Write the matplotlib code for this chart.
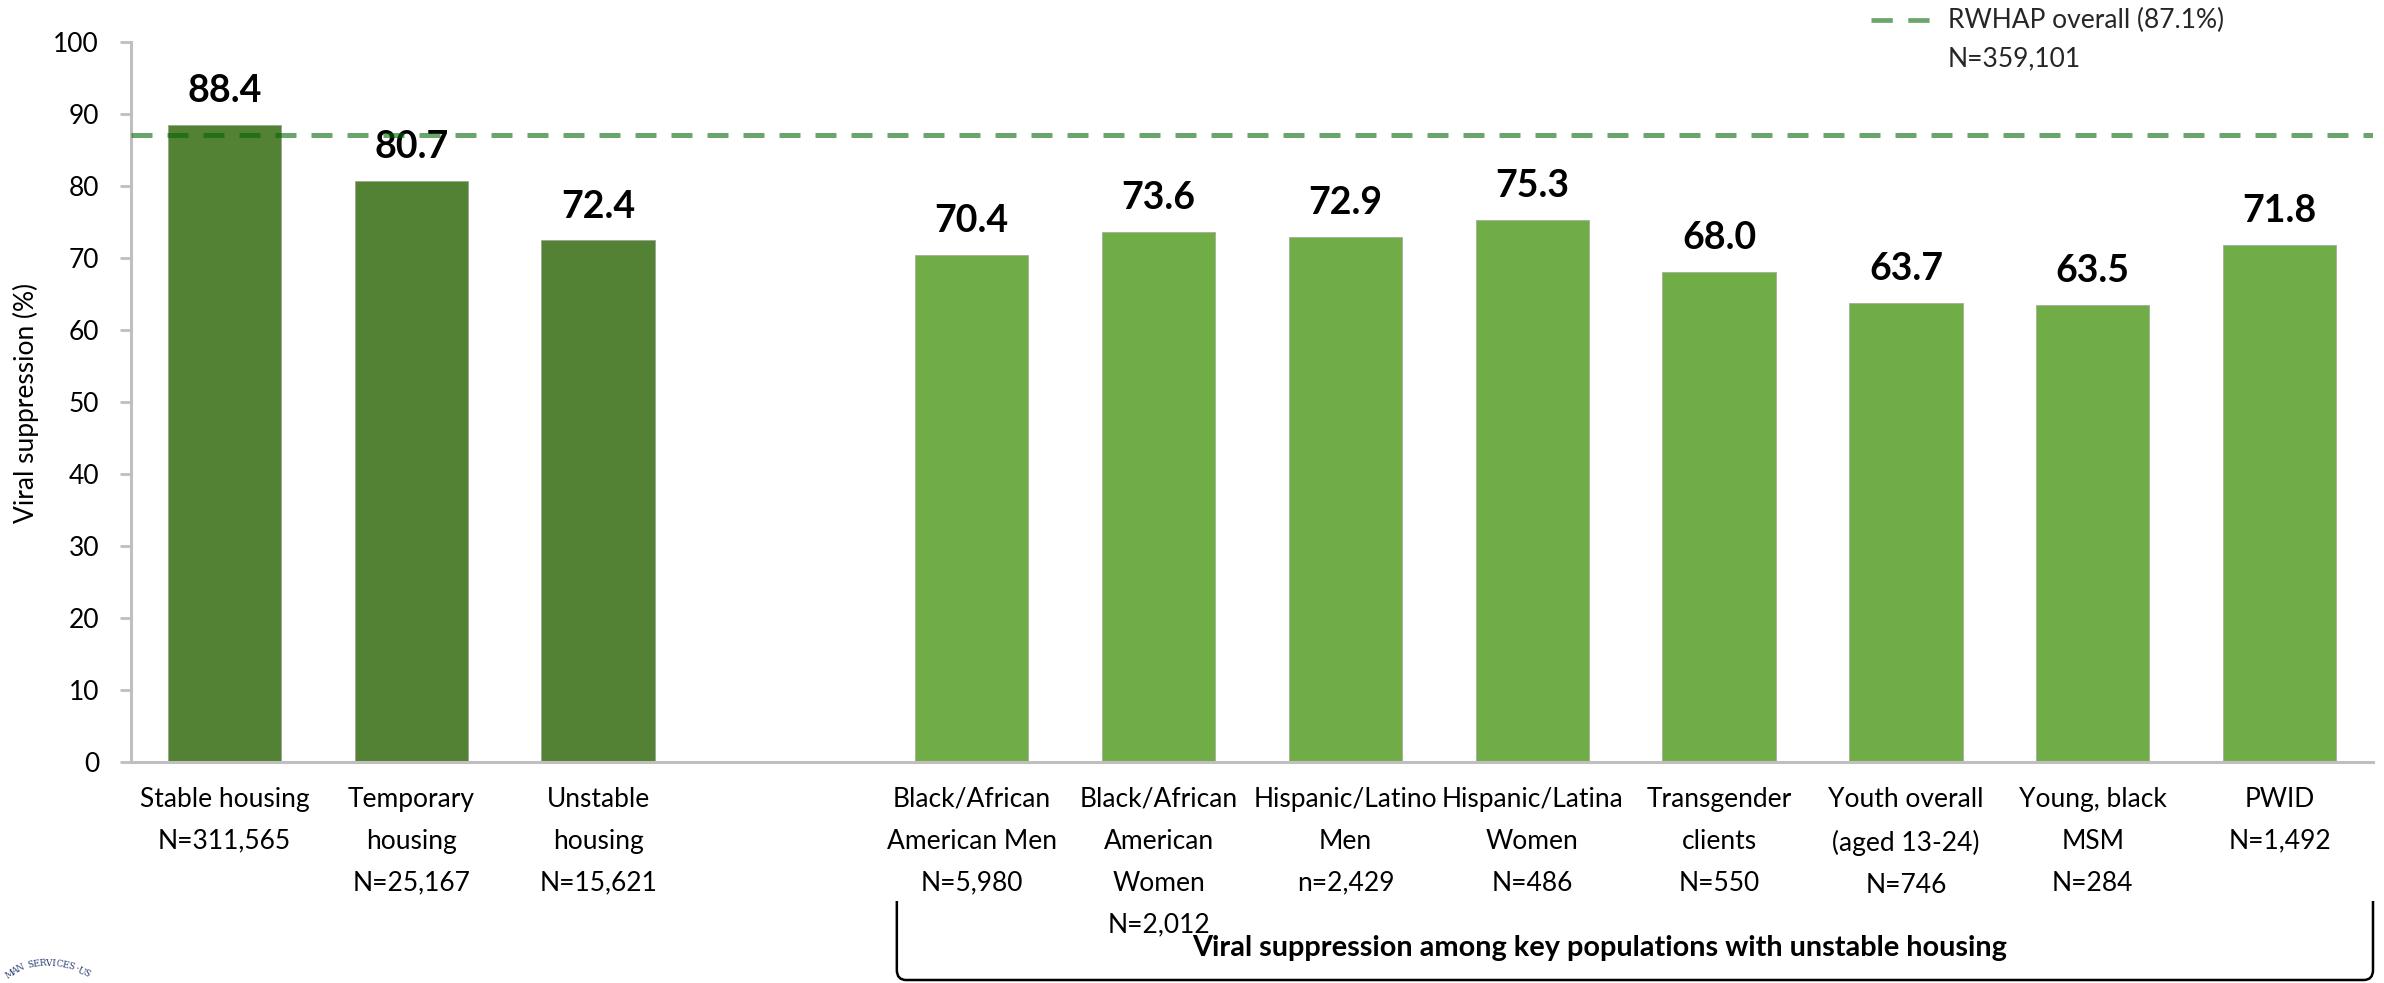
import matplotlib
matplotlib.use("Agg")
import matplotlib.pyplot as plt
import matplotlib.transforms as mtransforms
from matplotlib.path import Path
from matplotlib.patches import PathPatch
from matplotlib.lines import Line2D
import numpy as np

# ---------------- data ----------------
housing_labels = ["Stable housing\nN=311,565", "Temporary\nhousing\nN=25,167", "Unstable\nhousing\nN=15,621"]
housing_values = [88.4, 80.7, 72.4]

key_labels = ["Black/African\nAmerican Men\nN=5,980",
              "Black/African\nAmerican\nWomen\nN=2,012",
              "Hispanic/Latino\nMen\nn=2,429",
              "Hispanic/Latina\nWomen\nN=486",
              "Transgender\nclients\nN=550",
              "Youth overall\n(aged 13-24)\nN=746",
              "Young, black\nMSM\nN=284",
              "PWID\nN=1,492"]
key_values = [70.4, 73.6, 72.9, 75.3, 68.0, 63.7, 63.5, 71.8]

overall_value = 87.1
overall_label = "RWHAP overall (87.1%)\nN=359,101"
bracket_label = "Viral suppression among key populations with unstable housing"
y_ticks = list(range(0, 101, 10))
y_label = "Viral suppression (%)"

# ---------------- style ----------------
FONT = ["Lato", "DejaVu Sans"]
plt.rcParams["font.family"] = FONT
DARK = "#548235"
LIGHT = "#70AD47"
GRID = "#BFBFBF"
LINE_COLOR = "#006400"
LINE_ALPHA = 0.58
FS = 19

W, H = 2384, 983
fig = plt.figure(figsize=(W / 100, H / 100), dpi=100)
ax = fig.add_axes([131 / W, 1 - 761.7 / H, 2242 / W, 720 / H])

housing_x = np.arange(len(housing_values))
key_x = np.arange(len(key_values)) + len(housing_values) + 1
bw = 0.607

ax.bar(housing_x, housing_values, width=bw, color=DARK, edgecolor="#9AA58F", linewidth=0.6, zorder=2)
ax.bar(key_x, key_values, width=bw, color=LIGHT, edgecolor="#A3AE9A", linewidth=0.6, zorder=2)

for x, v in list(zip(housing_x, housing_values)) + list(zip(key_x, key_values)):
    ax.annotate(f"{v:.1f}", (x, v), xytext=(0, 16.5), textcoords="offset points",
                ha="center", va="baseline", fontsize=27, fontweight="bold", color="black")

ax.axhline(overall_value, color=LINE_COLOR, alpha=LINE_ALPHA, lw=3.6, dashes=(4.2, 3.0), zorder=3)

ax.set_xlim(-0.5, len(housing_values) + len(key_values) + 0.5)
ax.set_ylim(0, 100)
ax.set_yticks(y_ticks)
ax.set_yticklabels([str(t) for t in y_ticks])
ax.set_xticks(list(housing_x) + list(key_x))
ax.set_xticklabels(housing_labels + key_labels, linespacing=1.85)

for s in ["top", "right"]:
    ax.spines[s].set_visible(False)
for s in ["left", "bottom"]:
    ax.spines[s].set_color(GRID)
    ax.spines[s].set_linewidth(2.2)
ax.tick_params(axis="y", direction="out", length=8, width=2, color=GRID, pad=15,
               labelsize=FS, labelcolor="black")
ax.tick_params(axis="x", length=0, pad=18, labelsize=FS, labelcolor="black")
for lbl in ax.get_xticklabels():
    lbl.set_verticalalignment("top")

fig.text(26 / W, 1 - 403 / H, y_label, rotation=90, ha="center", va="center",
         fontsize=FS, color="black")

# legend-like note at the top right
leg_line = Line2D([1871 / W, 1930 / W], [1 - 20 / H, 1 - 20 / H], transform=fig.transFigure,
                  color=LINE_COLOR, alpha=LINE_ALPHA, lw=3.4, dashes=(4.5, 3.3))
fig.add_artist(leg_line)
l1, l2 = overall_label.split("\n")
fig.text(1948 / W, 1 - 20 / H, l1, ha="left", va="center", fontsize=FS, color="#262626")
fig.text(1948 / W, 1 - 59 / H, l2, ha="left", va="center", fontsize=FS, color="#262626")

# bracket beneath key populations
trans = mtransforms.blended_transform_factory(ax.transData, fig.transFigure)
x0, x1 = key_x[0] - 0.401, key_x[-1] + 0.5
ytop, ybot = 1 - 901 / H, 1 - 980 / H
rx, ry = 0.05, 10 / H
verts = [(x0, ytop), (x0, ybot + ry), (x0, ybot), (x0 + rx, ybot),
         (x1 - rx, ybot), (x1, ybot), (x1, ybot + ry), (x1, ytop)]
codes = [Path.MOVETO, Path.LINETO, Path.CURVE3, Path.CURVE3,
         Path.LINETO, Path.CURVE3, Path.CURVE3, Path.LINETO]
fig.add_artist(PathPatch(Path(verts, codes), transform=trans, fill=False,
                         edgecolor="black", lw=1.8, clip_on=False))
fig.text(1600 / W, 1 - 948 / H, bracket_label, ha="center", va="center",
         fontsize=20.8, fontweight="bold", color="black")

# fragment of a seal at the lower-left corner
seal = "MAN SERVICES·US"
cx, cy, r = 48, -52, 72
angles = np.linspace(122, 58, len(seal))
for ch, a in zip(seal, angles):
    px = cx + r * np.cos(np.radians(a))
    py = cy + r * np.sin(np.radians(a))
    fig.text(px / W, py / H, ch, rotation=a - 90, ha="center", va="center",
             fontsize=6.5, color="#2B3F73", family=["DejaVu Serif"])

fig.savefig("out.png", dpi=100)
